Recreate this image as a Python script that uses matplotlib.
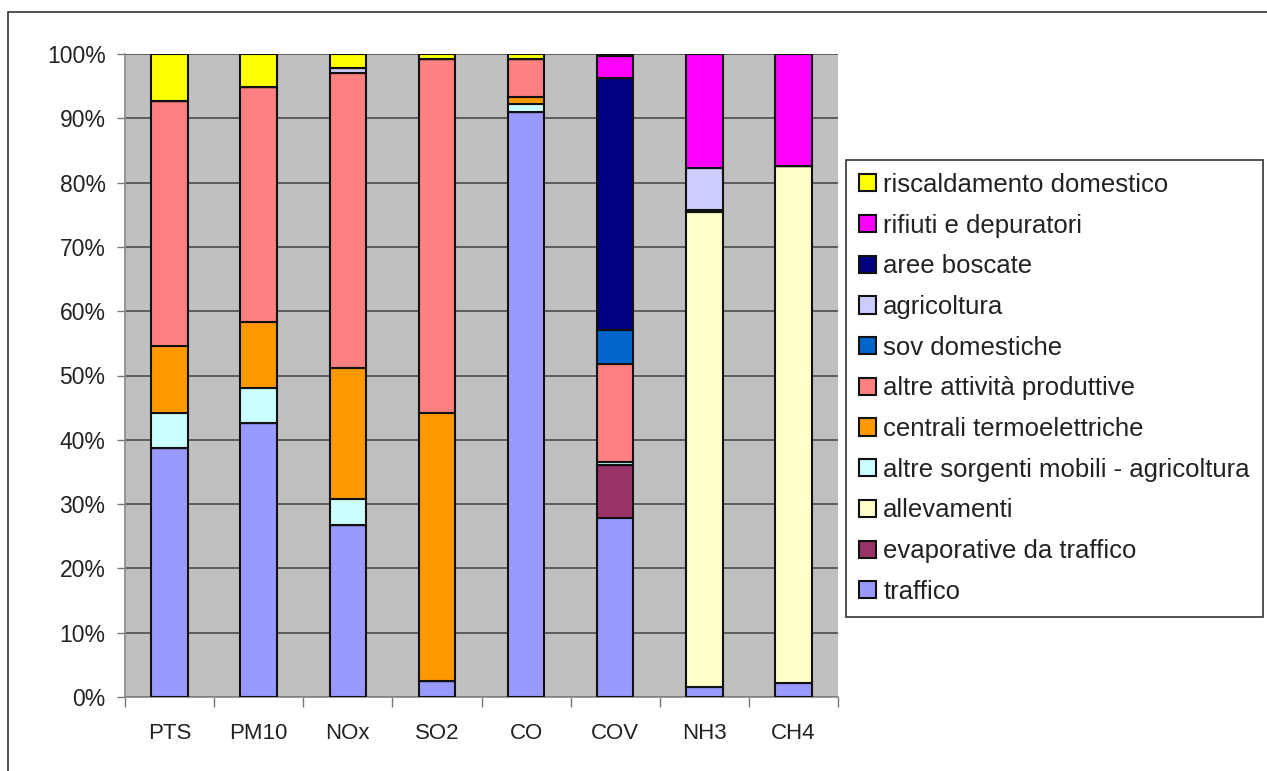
import numpy as np
import matplotlib
matplotlib.use("Agg")
import matplotlib.pyplot as plt
from matplotlib.patches import Rectangle
from matplotlib.ticker import PercentFormatter, FixedLocator

plt.rcParams['font.family'] = ['Liberation Sans', 'DejaVu Sans']

inquinanti = ["PTS", "PM10", "NOx", "SO2", "CO", "COV", "NH3", "CH4"]

# stacking order, bottom to top (values in %)
traffico = [38.7, 42.6, 26.7, 2.5, 91.0, 27.8, 1.6, 2.2]
evaporative = [0, 0, 0, 0, 0, 8.3, 0, 0]
allevamenti = [0, 0, 0, 0, 0, 0, 73.9, 80.4]
altre_sorgenti = [5.5, 5.5, 4.1, 0, 1.2, 0.4, 0.3, 0]
centrali = [10.4, 10.2, 20.4, 41.7, 1.1, 0, 0, 0]
altre_attivita = [38.1, 36.6, 45.8, 55.0, 5.9, 15.3, 0, 0]
sov_domestiche = [0, 0, 0, 0, 0, 5.3, 0, 0]
agricoltura = [0, 0, 0.8, 0, 0, 0, 6.5, 0]
aree_boscate = [0, 0, 0, 0, 0, 39.2, 0, 0]
rifiuti = [0, 0, 0, 0, 0, 3.4, 17.7, 17.4]
riscaldamento = [7.3, 5.1, 2.2, 0.8, 0.8, 0.3, 0, 0]

serie = [
    ("traffico", traffico, "#9999FF"),
    ("evaporative da traffico", evaporative, "#993366"),
    ("allevamenti", allevamenti, "#FFFFCC"),
    ("altre sorgenti mobili - agricoltura", altre_sorgenti, "#CCFFFF"),
    ("centrali termoelettriche", centrali, "#FF9900"),
    ("altre attività produttive", altre_attivita, "#FF8080"),
    ("sov domestiche", sov_domestiche, "#0066CC"),
    ("agricoltura", agricoltura, "#CCCCFF"),
    ("aree boscate", aree_boscate, "#000080"),
    ("rifiuti e depuratori", rifiuti, "#FF00FF"),
    ("riscaldamento domestico", riscaldamento, "#FFFF00"),
]

fig = plt.figure(figsize=(12.67, 7.71), dpi=100)
ax = fig.add_axes([125/1267, 74/771, (838-125)/1267, (697-54)/771])
ax.set_facecolor("#C0C0C0")

x = np.arange(len(inquinanti))
bottom = np.zeros(len(inquinanti))
handles = []
for nome, vals, col in serie:
    v = np.array(vals, dtype=float)
    b = ax.bar(x, v, 0.41, bottom=bottom, color=col, edgecolor="#111111",
               linewidth=1.5, label=nome, zorder=3)
    handles.append(b)
    bottom += v

ax.set_xlim(-0.5, len(inquinanti) - 0.5)
ax.set_ylim(0, 100)
ax.set_yticks(np.arange(0, 101, 10))
ax.yaxis.set_major_formatter(PercentFormatter(decimals=0))
ax.yaxis.grid(True, color="#555555", linewidth=1.3, zorder=0)
ax.set_axisbelow(True)

ax.set_xticks(x)
ax.set_xticklabels(inquinanti)
ax.xaxis.set_minor_locator(FixedLocator(np.arange(-0.5, len(inquinanti), 1.0)))
ax.tick_params(axis="x", which="major", length=0, pad=19, labelsize=16, labelcolor="#222222")
ax.tick_params(axis="x", which="minor", length=7, width=1, color="#777777", direction="out")
ax.tick_params(axis="y", length=6, width=1, color="#777777", pad=8, labelsize=16.5, labelcolor="#222222")

for s in ["top", "right"]:
    ax.spines[s].set_visible(False)
for s in ["left", "bottom"]:
    ax.spines[s].set_color("#888888")
    ax.spines[s].set_linewidth(1.2)

leg = fig.legend(handles[::-1], [s[0] for s in serie][::-1],
                 loc="upper left", bbox_to_anchor=(846/1267, 1 - 160/771),
                 borderaxespad=0, frameon=True, fancybox=False, shadow=False,
                 fontsize=18.5, handlelength=0.65, handleheight=0.65,
                 handletextpad=0.3, labelspacing=0.65, borderpad=0.5,
                 edgecolor="#333333", framealpha=1)
leg.get_frame().set_linewidth(1.2)
for t in leg.get_texts():
    t.set_color("#222222")

fig.patches.append(Rectangle((8/1267, -0.1), 1.2, 1.1 - 12/771, transform=fig.transFigure,
                             fill=False, edgecolor="#333333", linewidth=1.2))

fig.savefig("out.png", dpi=100)
